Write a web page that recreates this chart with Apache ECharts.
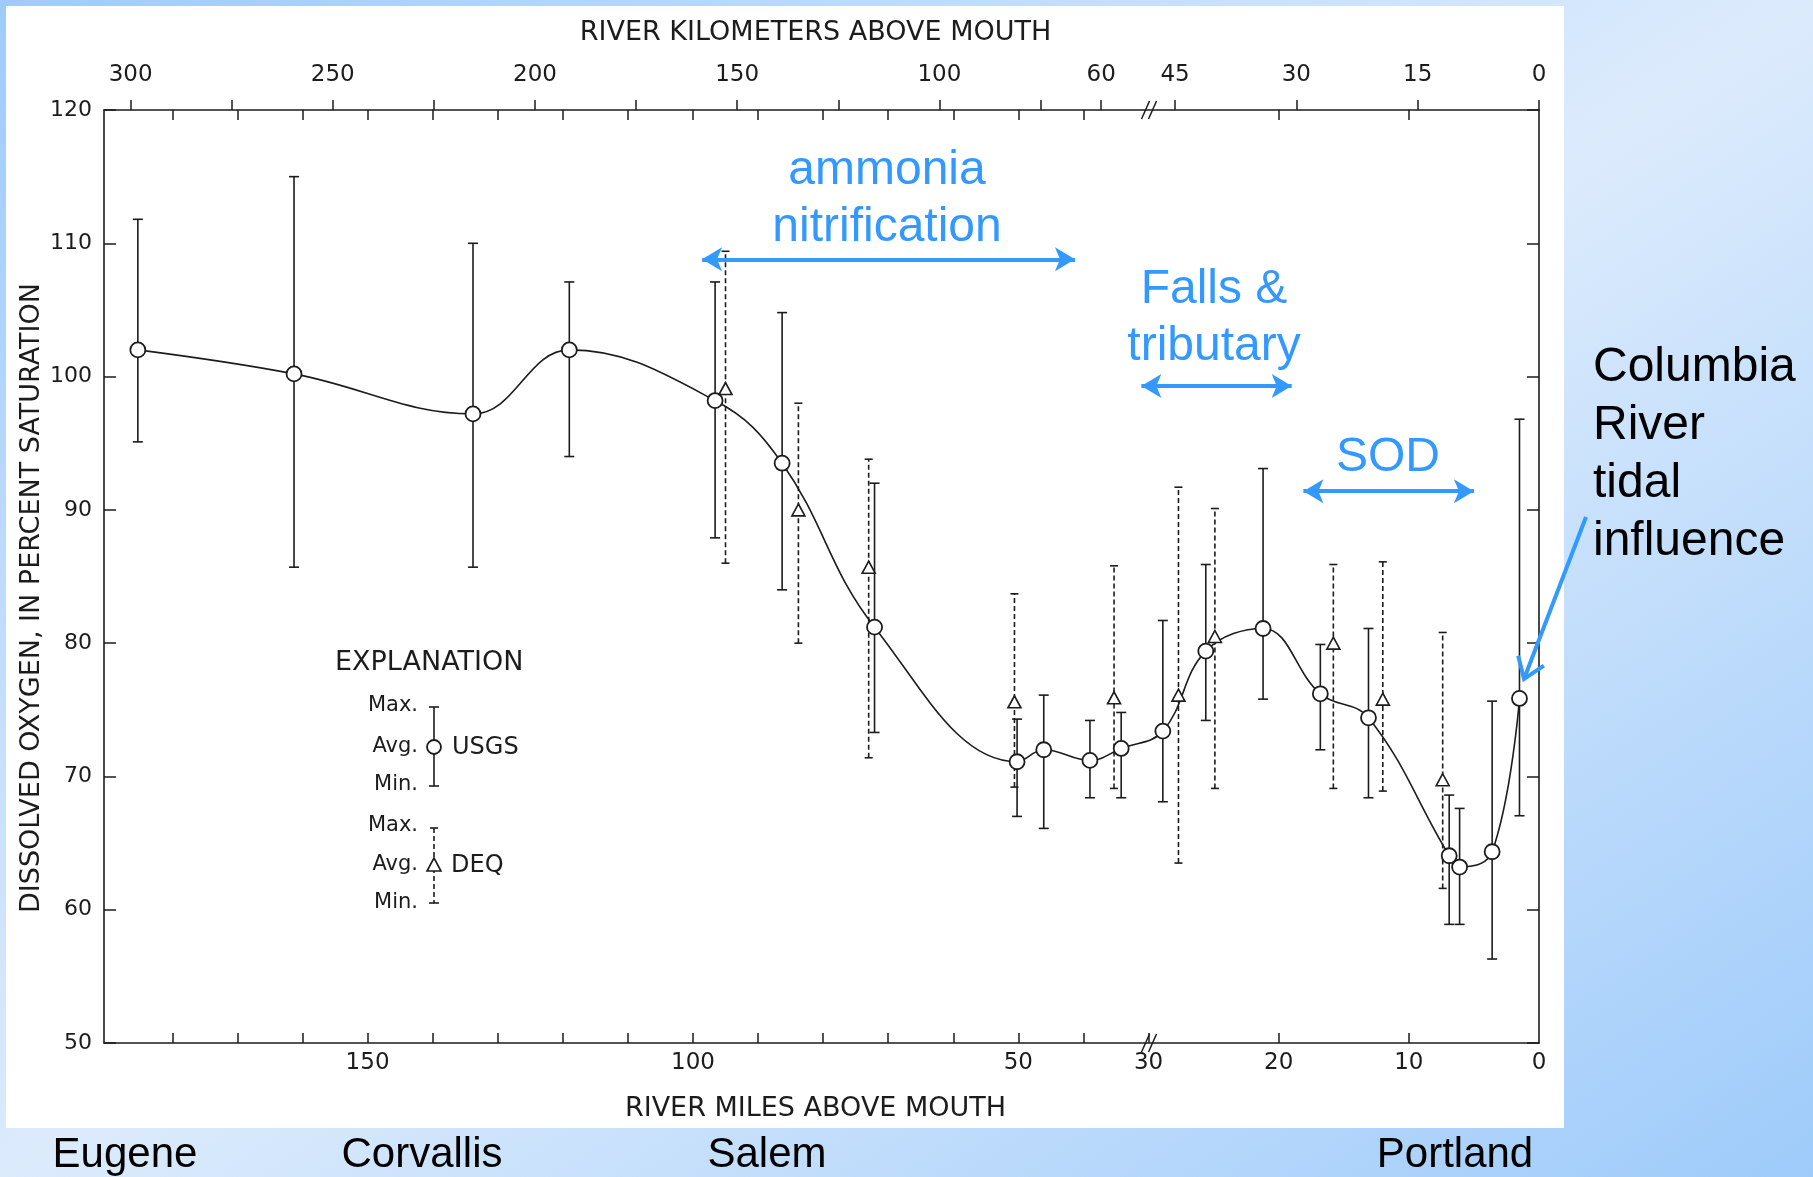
<!DOCTYPE html>
<html><head><meta charset="utf-8">
<script src="https://cdn.jsdelivr.net/npm/echarts@6/dist/echarts.min.js"></script>
<style>
html,body{margin:0;padding:0;}
body{width:1813px;height:1177px;overflow:hidden;position:relative;
  background:linear-gradient(to bottom right,#9fcbfc 0%,#dcebfc 50%,#9ecbfa 100%);}
#panel{position:absolute;left:6px;top:6px;width:1558px;height:1122px;background:#fff;}
#chart{position:absolute;left:0;top:0;width:1813px;height:1177px;}
</style></head><body>
<div id="panel"></div><div id="chart"></div>
<script>
// ---- data (river miles above mouth, dissolved oxygen % saturation) ----
const usgsMiles = [185.3, 161.3, 133.8, 119.0, 96.6, 86.3, 72.1, 50.2, 46.1, 39.0, 34.2, 28.9, 25.6, 21.2, 16.8, 13.1, 6.9, 6.1, 3.6, 1.5];
const usgsAvg   = [102.0, 100.2, 97.2, 102.0, 98.2, 93.5, 81.2, 71.1, 72.0, 71.2, 72.1, 73.4, 79.4, 81.1, 76.2, 74.4, 64.05, 63.2, 64.35, 75.85];
const usgsMax   = [111.8, 115.0, 110.0, 107.1, 107.1, 104.8, 92.0, 74.3, 76.1, 74.2, 74.8, 81.7, 85.9, 93.1, 79.9, 81.1, 68.6, 67.6, 75.65, 96.8];
const usgsMin   = [95.1, 85.7, 85.7, 94.0, 87.9, 84.0, 73.3, 67.0, 66.1, 68.4, 68.4, 68.1, 74.2, 75.8, 72.0, 68.4, 58.9, 58.9, 56.3, 67.05];

const deqMiles = [95.0, 83.8, 73.0, 50.6, 35.3, 27.7, 24.9, 15.8, 12.0, 7.4];
const deqAvg   = [99.1, 90.0, 85.7, 75.6, 75.9, 76.1, 80.5, 80.0, 75.8, 69.75];
const deqMax   = [109.4, 98.0, 93.8, 83.7, 85.8, 91.7, 90.1, 85.9, 86.1, 80.8];
const deqMin   = [86.0, 80.0, 71.4, 69.2, 69.1, 63.5, 69.1, 69.1, 68.9, 61.6];

const bottomLabelMiles = [150, 100, 50, 30, 20, 10, 0];
const bottomTickMiles  = [180, 170, 160, 150, 140, 130, 120, 110, 100, 90, 80, 70, 60, 50, 40, 30, 20, 10];
const topLabelKm = [300, 250, 200, 150, 100, 60, 45, 30, 15, 0];
const topTickKm  = [300, 275, 250, 225, 200, 175, 150, 125, 100, 75, 60, 45, 30, 15, 0];
const topInnerTickMiles = [180, 170, 160, 150, 140, 130, 120, 110, 100, 90, 80, 70, 60, 50, 40, 20, 10];
const cityNames = ['Eugene', 'Corvallis', 'Salem', 'Portland'];

// annotation spans: [fromMile, toMile, level]
const annoSpans = [[98.6, 41.3, 108.8], [31.1, 19.0, 99.3], [18.1, 5.0, 91.4]];

// ---- broken river-mile scale: below mile 30 the axis is expanded 2x ----
const BREAK = 30, EXPAND = 2, MILE_MAX = 190.5;
function toP(m){ return m < BREAK ? m * EXPAND : m + BREAK * (EXPAND - 1); }
function fromP(p){ return p < BREAK * EXPAND ? p / EXPAND : p - BREAK * (EXPAND - 1); }
const KM = 1.609344;
const kmToP = km => toP(km / KM);

const INK = '#1c1c1c';
const BLUE = '#3399ff';
const SCAN_FONT = 'DejaVu Sans';

function errRender(dashed, capW){
  return function(params, api){
    const x = api.value(0), lo = api.value(1), hi = api.value(2);
    const a = api.coord([x, lo]), b = api.coord([x, hi]);
    const solid = {stroke: INK, lineWidth: 1.6};
    const bar = dashed ? {stroke: INK, lineWidth: 1.6, lineDash: [5, 3]} : solid;
    return {type: 'group', children: [
      {type: 'line', shape: {x1: a[0], y1: a[1], x2: b[0], y2: b[1]}, style: bar},
      {type: 'line', shape: {x1: a[0] - capW, y1: a[1], x2: a[0] + capW, y2: a[1]}, style: solid},
      {type: 'line', shape: {x1: b[0] - capW, y1: b[1], x2: b[0] + capW, y2: b[1]}, style: solid}
    ]};
  };
}

const chart = echarts.init(document.getElementById('chart'), null, {renderer: 'canvas'});

const xBase = {type: 'value', min: 0, max: toP(MILE_MAX), inverse: true, splitLine: {show: false}};
const axisLineStyle = {show: true, onZero: false, lineStyle: {color: INK, width: 1.6}};

const option = {
  backgroundColor: 'transparent',
  animation: false,
  grid: {left: 104, right: 274, top: 110, bottom: 134, containLabel: false, outerBoundsMode: 'none'},
  xAxis: [
    Object.assign({}, xBase, {
      position: 'bottom',
      axisLine: axisLineStyle,
      axisTick: {show: true, inside: true, length: 10, lineStyle: {color: INK, width: 1.5},
                 customValues: bottomTickMiles.map(toP)},
      axisLabel: {show: true, margin: 9, color: INK, fontFamily: SCAN_FONT, fontSize: 23,
                  customValues: bottomLabelMiles.map(toP),
                  formatter: v => String(Math.round(fromP(v)))},
      name: 'RIVER MILES ABOVE MOUTH', nameLocation: 'middle', nameGap: 52,
      nameTextStyle: {color: INK, fontFamily: SCAN_FONT, fontSize: 27, padding: [0, 12, 0, 0]}
    }),
    Object.assign({}, xBase, {
      position: 'top',
      axisLine: axisLineStyle,
      axisTick: {show: true, inside: false, length: 10, lineStyle: {color: INK, width: 1.5},
                 customValues: topTickKm.map(kmToP)},
      axisLabel: {show: true, margin: 23, color: INK, fontFamily: SCAN_FONT, fontSize: 23,
                  customValues: topLabelKm.map(kmToP),
                  formatter: v => String(Math.round(fromP(v) * KM))},
      name: 'RIVER KILOMETERS ABOVE MOUTH', nameLocation: 'middle', nameGap: 64,
      nameTextStyle: {color: INK, fontFamily: SCAN_FONT, fontSize: 27, padding: [0, 12, 0, 0]}
    }),
    Object.assign({}, xBase, {
      position: 'top',
      axisLine: {show: false},
      axisTick: {show: true, inside: true, length: 10, lineStyle: {color: INK, width: 1.5},
                 customValues: topInnerTickMiles.map(toP)},
      axisLabel: {show: false}
    })
  ],
  yAxis: [
    {type: 'value', position: 'left', min: 50, max: 120, interval: 10,
     axisLine: axisLineStyle,
     axisTick: {show: true, inside: true, length: 12, lineStyle: {color: INK, width: 1.5}},
     axisLabel: {color: INK, fontFamily: SCAN_FONT, fontSize: 22, margin: 12},
     splitLine: {show: false}},
    {type: 'value', position: 'right', min: 50, max: 120, interval: 10,
     axisLine: axisLineStyle,
     axisTick: {show: true, inside: true, length: 12, lineStyle: {color: INK, width: 1.5}},
     axisLabel: {show: false}, splitLine: {show: false}}
  ],
  series: [
    {
      name: 'USGS curve', type: 'line', xAxisIndex: 0, yAxisIndex: 0,
      data: usgsMiles.map((m, i) => [toP(m), usgsAvg[i]]),
      smooth: 0.4, showSymbol: false, symbol: 'none', z: 2,
      lineStyle: {color: INK, width: 1.6},
      markLine: {
        silent: true, symbol: ['arrow', 'arrow'], symbolSize: [18, 20],
        label: {show: false},
        lineStyle: {color: BLUE, width: 4, type: 'solid'},
        itemStyle: {color: BLUE},
        data: annoSpans.map(s => [{coord: [toP(s[0]), s[2]]}, {coord: [toP(s[1]), s[2]]}])
      }
    },
    {
      name: 'USGS range', type: 'custom', xAxisIndex: 0, yAxisIndex: 0, z: 3,
      renderItem: errRender(false, 5),
      encode: {x: 0, y: [1, 2]},
      data: usgsMiles.map((m, i) => [toP(m), usgsMin[i], usgsMax[i]])
    },
    {
      name: 'DEQ range', type: 'custom', xAxisIndex: 0, yAxisIndex: 0, z: 3,
      renderItem: errRender(true, 4),
      encode: {x: 0, y: [1, 2]},
      data: deqMiles.map((m, i) => [toP(m), deqMin[i], deqMax[i]])
    },
    {
      name: 'USGS', type: 'scatter', xAxisIndex: 0, yAxisIndex: 0, z: 5,
      symbol: 'circle', symbolSize: 15,
      itemStyle: {color: '#fff', borderColor: INK, borderWidth: 1.8, opacity: 1},
      data: usgsMiles.map((m, i) => [toP(m), usgsAvg[i]])
    },
    {
      name: 'DEQ', type: 'scatter', xAxisIndex: 0, yAxisIndex: 0, z: 5,
      symbol: 'triangle', symbolSize: [13, 12],
      itemStyle: {color: '#fff', borderColor: INK, borderWidth: 1.6, opacity: 1},
      data: deqMiles.map((m, i) => [toP(m), deqAvg[i]])
    }
  ]
};
chart.setOption(option);

// ---- decorations: axis break marks, explanation key, annotations ----
function T(text, x, y, font, fill, align, vAlign){
  return {type: 'text', z: 100, style: {text, x, y, font, fill,
    textAlign: align || 'left', align: align || 'left',
    textVerticalAlign: vAlign || 'middle', verticalAlign: vAlign || 'middle'}};
}
const g = [];
const bx = chart.convertToPixel({xAxisIndex: 0}, toP(BREAK));
const yTop = chart.convertToPixel({yAxisIndex: 0}, 120);
const yBot = chart.convertToPixel({yAxisIndex: 0}, 50);
[yTop, yBot].forEach(yy => {
  [-3, 4].forEach(off => {
    g.push({type: 'line', z: 100, shape: {x1: bx + off - 4, y1: yy + 9, x2: bx + off + 4, y2: yy - 9},
            style: {stroke: INK, lineWidth: 1.5}});
  });
});

// y-axis title (set slightly below the axis centre, as in the original figure)
g.push({type: 'text', z: 100, x: 32, y: 598, rotation: Math.PI / 2,
        style: {text: 'DISSOLVED OXYGEN, IN PERCENT SATURATION', x: 0, y: 0,
                font: '27px "DejaVu Sans"', fill: INK,
                textAlign: 'center', align: 'center', textVerticalAlign: 'middle', verticalAlign: 'middle'}});

// explanation key
const sf = (s) => s + 'px "DejaVu Sans"';
g.push(T('EXPLANATION', 335, 663, sf(27), INK));
g.push(T('Max.', 418, 706, sf(21), INK, 'right'));
g.push(T('Avg.', 418, 747, sf(21), INK, 'right'));
g.push(T('Min.', 418, 785, sf(21), INK, 'right'));
g.push({type: 'line', z: 100, shape: {x1: 434, y1: 707, x2: 434, y2: 786}, style: {stroke: INK, lineWidth: 1.6}});
g.push({type: 'line', z: 100, shape: {x1: 429, y1: 707, x2: 439, y2: 707}, style: {stroke: INK, lineWidth: 1.6}});
g.push({type: 'line', z: 100, shape: {x1: 429, y1: 786, x2: 439, y2: 786}, style: {stroke: INK, lineWidth: 1.6}});
g.push({type: 'circle', z: 101, shape: {cx: 434, cy: 747, r: 7}, style: {fill: '#fff', stroke: INK, lineWidth: 1.8}});
g.push(T('USGS', 452, 748, sf(24), INK));
g.push(T('Max.', 418, 826, sf(21), INK, 'right'));
g.push(T('Avg.', 418, 865, sf(21), INK, 'right'));
g.push(T('Min.', 418, 903, sf(21), INK, 'right'));
g.push({type: 'line', z: 100, shape: {x1: 434, y1: 828, x2: 434, y2: 903}, style: {stroke: INK, lineWidth: 1.6, lineDash: [5, 3]}});
g.push({type: 'line', z: 100, shape: {x1: 430, y1: 828, x2: 438, y2: 828}, style: {stroke: INK, lineWidth: 1.6}});
g.push({type: 'line', z: 100, shape: {x1: 429, y1: 903, x2: 439, y2: 903}, style: {stroke: INK, lineWidth: 1.6}});
g.push({type: 'polygon', z: 101, shape: {points: [[434, 858], [427, 871], [441, 871]]}, style: {fill: '#fff', stroke: INK, lineWidth: 1.6}});
g.push(T('DEQ', 451, 866, sf(24), INK));

// blue annotations
const af = '48px "Liberation Sans", Arial, sans-serif';
g.push(T('ammonia', 887, 171, af, BLUE, 'center'));
g.push(T('nitrification', 887, 228, af, BLUE, 'center'));
g.push(T('Falls &', 1214, 290, af, BLUE, 'center'));
g.push(T('tributary', 1214, 347, af, BLUE, 'center'));
g.push(T('SOD', 1388, 458, af, BLUE, 'center'));

// Columbia River note + arrow
['Columbia', 'River', 'tidal', 'influence'].forEach((w, i) => g.push(T(w, 1593, 368 + i * 58, af, '#000')));
const S = [1586, 517], E = [1524, 679];
g.push({type: 'line', z: 100, shape: {x1: S[0], y1: S[1], x2: E[0], y2: E[1]}, style: {stroke: BLUE, lineWidth: 4}});
(function(){
  const dx = S[0] - E[0], dy = S[1] - E[1], L = Math.hypot(dx, dy);
  const ux = dx / L, uy = dy / L, len = 24, th = 35 * Math.PI / 180;
  const w1 = [E[0] + len * (ux * Math.cos(th) - uy * Math.sin(th)), E[1] + len * (ux * Math.sin(th) + uy * Math.cos(th))];
  const w2 = [E[0] + len * (ux * Math.cos(-th) - uy * Math.sin(-th)), E[1] + len * (ux * Math.sin(-th) + uy * Math.cos(-th))];
  g.push({type: 'polyline', z: 100, shape: {points: [w1, E, w2]}, style: {stroke: BLUE, lineWidth: 4, fill: null, lineJoin: 'miter'}});
})();

// city names
const cf = '42px "Liberation Sans", Arial, sans-serif';
const cityX = [125, 422, 767, 1455];
cityNames.forEach((c, i) => g.push(T(c, cityX[i], 1155, cf, '#000', 'center')));

chart.setOption({graphic: g});
</script>
</body></html>
